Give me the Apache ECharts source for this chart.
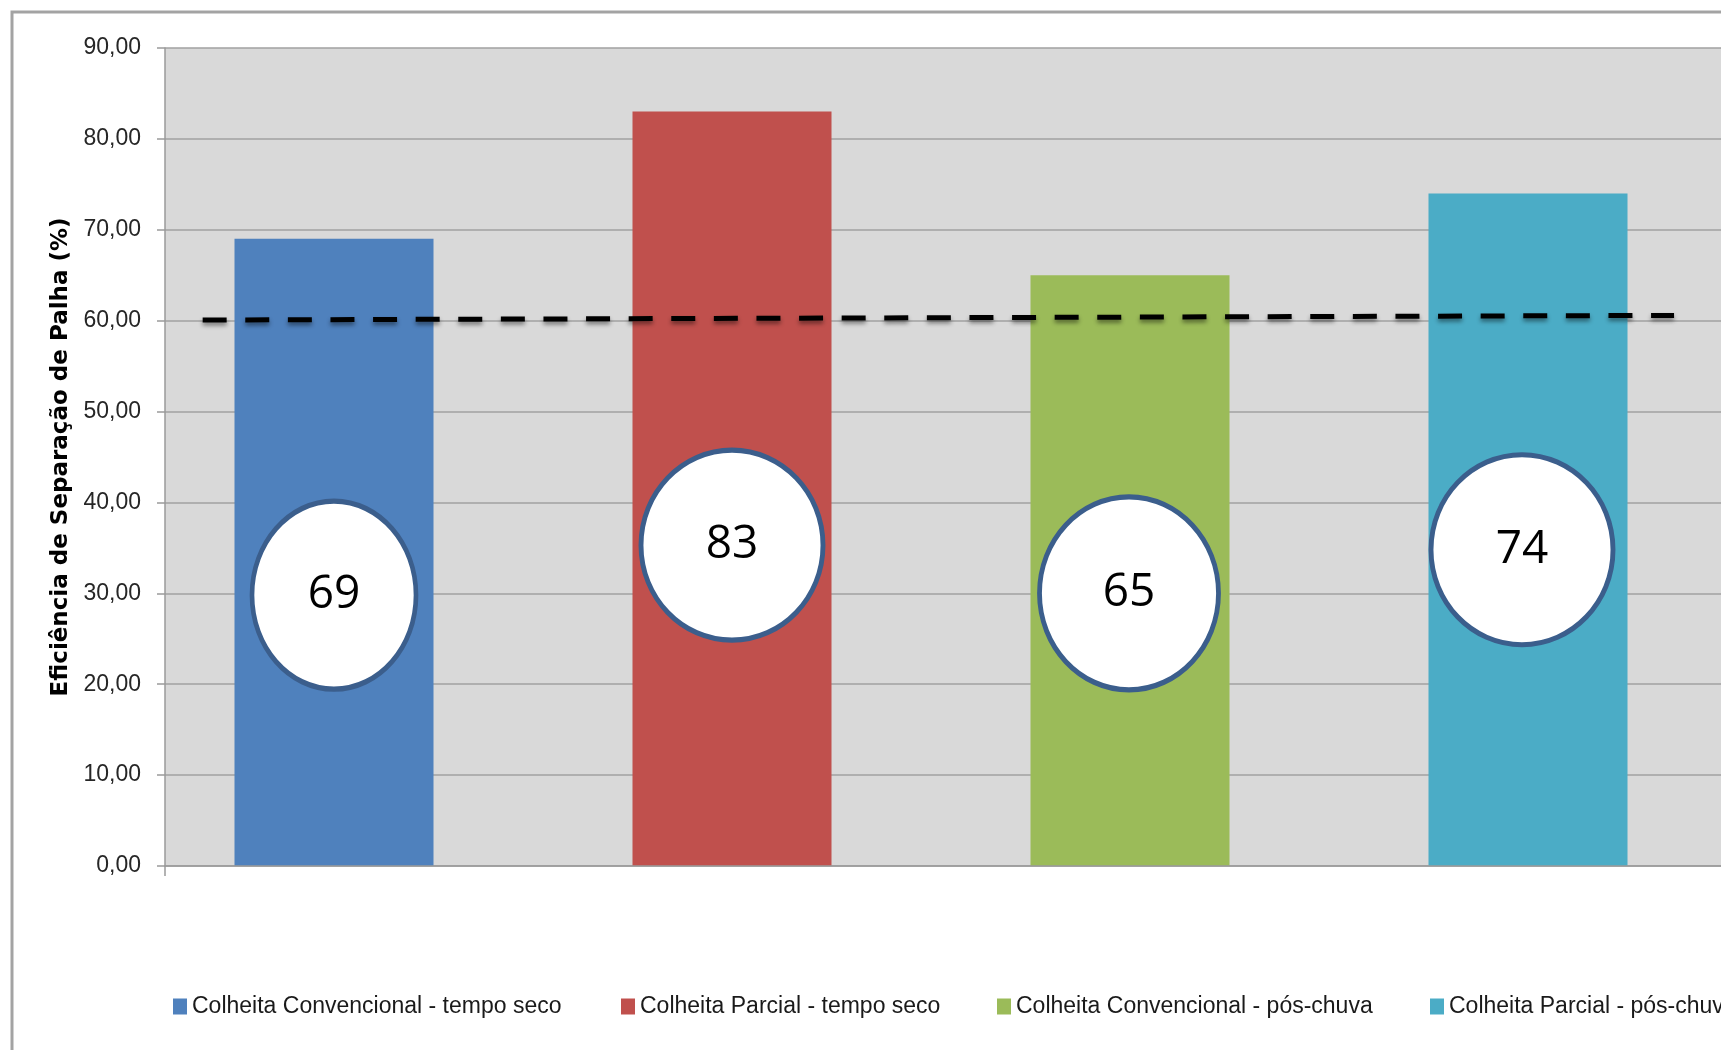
<!DOCTYPE html>
<html>
<head>
<meta charset="utf-8">
<script src="https://cdn.jsdelivr.net/npm/echarts@6/dist/echarts.min.js"></script>
<style>
  html, body { margin: 0; padding: 0; background: #ffffff; }
  #chart { width: 1721px; height: 1050px; }
</style>
</head>
<body>
<div id="chart"></div>
<script>
// Harvest treatments (one bar each)
const seriesNames = [
  'Colheita Convencional - tempo seco',
  'Colheita Parcial - tempo seco',
  'Colheita Convencional - pós-chuva',
  'Colheita Parcial - pós-chuva'
];
const categories = ['CC-seco', 'CP-seco', 'CC-chuva', 'CP-chuva'];
// Straw separation efficiency (%)
const efficiency = [69, 83, 65, 74];
const barColors = ['#4F81BD', '#C0504D', '#9BBB59', '#4BACC6'];
// Y axis ticks
const yMin = 0, yMax = 90, yStep = 10;
// Height (in %) at which each value badge sits
const badgeLevels = [29.8, 35.3, 30.0, 34.8];
// 60 % reference line, x in category units
const referenceLine = [[-0.330, 60.07], [3.367, 60.58]];

const labelFont = '"Liberation Sans", Arial, sans-serif';
const ellipsePath = 'path://M50,0 C77.6,0 100,22.4 100,50 C100,77.6 77.6,100 50,100 C22.4,100 0,77.6 0,50 C0,22.4 22.4,0 50,0 Z';
const badgeSizes = [[164, 188], [182, 190], [179, 193], [182, 190]];
const badgeShift = [[0, 0], [0, 0], [-1, 0], [-6, 0]];

const chart = echarts.init(document.getElementById('chart'));

const barSeries = seriesNames.map((name, i) => ({
  name: name,
  type: 'bar',
  xAxisIndex: 0,
  yAxisIndex: 1,
  barWidth: 199,
  barGap: '-100%',
  itemStyle: { color: barColors[i] },
  data: efficiency.map((v, j) => (j === i ? v : '-')),
  z: 2
}));

const legendLeft = [173, 621, 997, 1430];
const legends = seriesNames.map((name, i) => ({
  data: [name],
  left: legendLeft[i],
  top: 995,
  padding: 0,
  icon: 'rect',
  itemWidth: 14,
  itemHeight: 16,
  selectedMode: false,
  textStyle: { fontFamily: labelFont, fontSize: 23, color: '#1a1a1a' }
}));

const option = {
  animation: false,
  backgroundColor: '#ffffff',
  graphic: [{
    type: 'rect',
    silent: true,
    z: -10,
    shape: { x: 12, y: 12, width: 1800, height: 1200 },
    style: { fill: 'none', stroke: '#A3A3A3', lineWidth: 3 }
  }],
  legend: legends,
  grid: [
    { left: 135, top: 48, width: 1592, height: 818, containLabel: false, outerBoundsMode: 'none' },
    { left: 165, top: 48, width: 1562, height: 818, show: true, backgroundColor: '#D9D9D9', borderWidth: 0, outerBoundsMode: 'none' }
  ],
  xAxis: [
    { type: 'category', gridIndex: 0, data: categories, show: false },
    { type: 'value', gridIndex: 0, min: -0.5, max: 3.5, show: false },
    {
      type: 'category', gridIndex: 1, data: [''], z: 5,
      axisLine: { show: true, lineStyle: { color: '#9A9A9A', width: 1.5 } },
      axisTick: { show: true, length: 10, lineStyle: { color: '#9A9A9A', width: 1.5 } },
      axisLabel: { show: false }
    }
  ],
  yAxis: [
    {
      type: 'value', gridIndex: 1, min: yMin, max: yMax, interval: yStep,
      name: 'Eficiência de Separação de Palha (%)',
      nameLocation: 'middle',
      nameGap: 82,
      nameRotate: 90,
      nameTextStyle: { fontFamily: '"DejaVu Sans", sans-serif', fontWeight: 'bold', fontSize: 23, color: '#000' },
      axisLine: { show: true, lineStyle: { color: '#9A9A9A', width: 1.5 } },
      axisTick: { show: true, length: 8, lineStyle: { color: '#9A9A9A', width: 1.5 } },
      axisLabel: {
        margin: 24,
        fontFamily: labelFont,
        fontSize: 23,
        color: '#262626',
        formatter: v => v.toFixed(2).replace('.', ',')
      },
      splitLine: { show: true, lineStyle: { color: '#A0A0A0', width: 1.5 } }
    },
    { type: 'value', gridIndex: 0, min: yMin, max: yMax, interval: yStep, show: false }
  ],
  series: [
    ...barSeries,
    {
      name: 'referencia',
      type: 'line',
      xAxisIndex: 1,
      yAxisIndex: 1,
      data: referenceLine,
      symbol: 'none',
      silent: true,
      z: 3,
      lineStyle: {
        color: '#000',
        width: 5,
        type: [24, 18.6],
        cap: 'butt',
        shadowColor: 'rgba(0,0,0,0.45)',
        shadowBlur: 4,
        shadowOffsetY: 3
      }
    },
    {
      name: 'valores',
      type: 'scatter',
      xAxisIndex: 0,
      yAxisIndex: 1,
      symbol: ellipsePath,
      silent: true,
      z: 4,
      itemStyle: { color: '#ffffff', borderColor: '#3B5E8C', borderWidth: 5, opacity: 1 },
      label: {
        show: true,
        position: 'inside',
        fontFamily: '"Open Sans", sans-serif',
        fontSize: 46,
        color: '#000'
      },
      data: badgeLevels.map((lvl, i) => ({
        value: [i, lvl],
        symbolSize: badgeSizes[i],
        symbolOffset: badgeShift[i],
        label: { formatter: String(efficiency[i]) }
      }))
    }
  ]
};

chart.setOption(option);
</script>
</body>
</html>
